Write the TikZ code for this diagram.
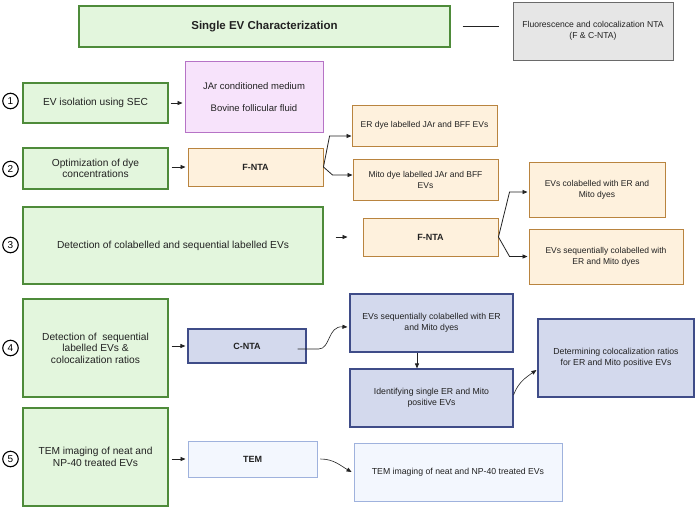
\documentclass[tikz,border=0pt]{standalone}
\usepackage{fontspec}
\setmainfont{Liberation Sans}
\usetikzlibrary{arrows.meta,calc}
\definecolor{gfill}{HTML}{E3F6DD}
\definecolor{gdraw}{HTML}{4E8B3A}
\definecolor{pfill}{HTML}{F7E3FB}
\definecolor{pdraw}{HTML}{B673C6}
\definecolor{ofill}{HTML}{FEF1DD}
\definecolor{odraw}{HTML}{B9843F}
\definecolor{bfill}{HTML}{D3D9ED}
\definecolor{bdraw}{HTML}{3F4C88}
\definecolor{lfill}{HTML}{F3F7FE}
\definecolor{ldraw}{HTML}{9FB2DD}
\definecolor{grfill}{HTML}{E6E6E6}
\definecolor{grdraw}{HTML}{6A6A6A}
\definecolor{txt}{HTML}{222222}
\tikzset{
  box/.style={rectangle, inner sep=1pt, align=center, text=txt, line width=1.1pt, font=\fontsize{10.2}{11.5}\selectfont},
  gbox/.style={box, fill=gfill, draw=gdraw},
  pbox/.style={box, fill=pfill, draw=pdraw, line width=0.9pt},
  obox/.style={box, fill=ofill, draw=odraw, line width=0.9pt, font=\fontsize{8.5}{11}\selectfont},
  bbox/.style={box, fill=bfill, draw=bdraw, line width=1.1pt, font=\fontsize{8.7}{11.2}\selectfont},
  lbox/.style={box, fill=lfill, draw=ldraw, line width=0.9pt, font=\fontsize{8.7}{11}\selectfont},
  grbox/.style={box, fill=grfill, draw=grdraw, line width=1pt, font=\fontsize{8.6}{10.5}\selectfont},
  hd/.style={font=\fontsize{9}{11}\selectfont\bfseries},
  num/.style={circle, draw=black, line width=1.1pt, minimum size=15.5pt, inner sep=0pt, font=\fontsize{10}{11}\selectfont},
  arr/.style={draw=txt, line width=0.8pt, -{Triangle[length=5pt,width=4pt]}},
}
\begin{document}
\begin{tikzpicture}[x=1pt,y=-1pt]
\useasboundingbox[fill=white] (0,0) rectangle (696,507);

% title and legend
\node[gbox, minimum width=371pt, minimum height=41pt, font=\fontsize{11.5}{13}\selectfont\bfseries] (title) at (264.5,26.5) {Single EV Characterization};
\node[grbox, minimum width=160pt, minimum height=58pt] (gray) at (593,31) {Fluorescence and colocalization NTA\\(F \& C-NTA)};
\draw[line width=1pt, draw=txt] ([xshift=12pt]title.east) -- ([xshift=-14pt]title.east -| gray.west);

% step numbers
\node[num] (n1) at (10.5,101) {1};
\node[num] (n2) at (10.5,169) {2};
\node[num] (n3) at (10.5,245) {3};
\node[num] (n4) at (10.5,348) {4};
\node[num] (n5) at (10.5,459) {5};

% row 1
\node[gbox, minimum width=145pt, minimum height=40pt] (b1) at (95.5,103) {EV isolation using SEC};
\node[pbox, minimum width=138pt, minimum height=71pt, font=\fontsize{9.5}{22}\selectfont] (pink) at (254,97) {JAr conditioned medium\\Bovine follicular fluid};
\draw[arr] ([xshift=2pt]b1.east) -- ([xshift=-2pt]b1.east -| pink.west);

% row 2
\node[gbox, minimum width=145pt, minimum height=41pt] (b2) at (95.5,168.5) {Optimization of dye\\concentrations};
\node[obox, hd, minimum width=135pt, minimum height=38pt] (f1) at (255.5,167) {F-NTA};
\node[obox, minimum width=145pt, minimum height=41pt] (er) at (424.5,125.5) {ER dye labelled JAr and BFF EVs};
\node[obox, minimum width=145pt, minimum height=41pt] (mito) at (425.5,179.5) {Mito dye labelled JAr and BFF\\EVs};
\draw[arr] ([xshift=3pt]b2.east |- f1.west) -- ([xshift=-2pt]f1.west);
\draw[arr] (f1.east) -- ([xshift=-22pt,yshift=-10.5pt]er.west) -- ([yshift=-10.5pt]er.west);
\draw[arr] (f1.east) -- ([xshift=-20pt,yshift=4.5pt]mito.west) -- ([yshift=4.5pt]mito.west);

% row 3
\node[gbox, minimum width=300pt, minimum height=77pt] (b3) at (173,245.5) {Detection of colabelled and sequential labelled EVs};
\node[obox, hd, minimum width=135pt, minimum height=38pt] (f2) at (430.5,237) {F-NTA};
\node[obox, minimum width=136pt, minimum height=55pt] (colab) at (597,189.5) {EVs colabelled with ER and\\Mito dyes};
\node[obox, minimum width=154pt, minimum height=55pt] (seq) at (606,256.5) {EVs sequentially colabelled with\\ER and Mito dyes};
\draw[arr] ([xshift=12pt]b3.east |- f2.west) -- ([xshift=-15pt]f2.west);
\draw[arr] (f2.east) -- ([xshift=-19pt,yshift=-2.5pt]colab.west) -- ([xshift=-1pt,yshift=-2.5pt]colab.west);
\draw[arr] (f2.east) -- ([xshift=-19pt]seq.west) -- ([xshift=-1pt]seq.west);

% row 4
\node[gbox, minimum width=145pt, minimum height=98pt] (b4) at (95.5,348) {Detection of~ sequential\\labelled EVs \&\\colocalization ratios};
\node[bbox, hd, minimum width=118pt, minimum height=34pt] (cnta) at (247,346) {C-NTA};
\node[bbox, minimum width=163pt, minimum height=58pt] (bl1) at (431.5,323) {EVs sequentially colabelled with ER\\and Mito dyes};
\node[bbox, minimum width=163pt, minimum height=58pt] (bl2) at (431.5,398) {Identifying single ER and Mito\\positive EVs};
\node[bbox, minimum width=156pt, minimum height=78pt] (bl3) at (616,358) {Determining colocalization ratios\\for ER and Mito positive EVs};
\draw[arr] ([xshift=3pt]b4.east |- cnta.west) -- ([xshift=-2pt]cnta.west);
\draw[arr, line width=0.6pt] ([xshift=-9pt,yshift=-3pt]cnta.east) -- ([xshift=12pt,yshift=-3pt]cnta.east)
  .. controls ([xshift=24pt,yshift=-3pt]cnta.east) and ([xshift=-22pt,yshift=-3pt]bl1.west) .. ([xshift=-2pt,yshift=-4pt]bl1.west);
\draw[arr] ([xshift=-14.5pt]bl1.south) -- ([xshift=-14.5pt]bl2.north);
\draw[arr, line width=0.6pt] ([yshift=3pt]bl2.east) to[out=70,in=215] ([xshift=-1pt,yshift=-12pt]bl3.west);

% row 5
\node[gbox, minimum width=145pt, minimum height=98pt] (b5) at (95.5,457) {TEM imaging of neat and\\NP-40 treated EVs};
\node[lbox, hd, minimum width=129pt, minimum height=36pt] (tem) at (252.5,459) {TEM};
\node[lbox, minimum width=208pt, minimum height=58pt] (temres) at (458,472) {TEM imaging of neat and NP-40 treated EVs};
\draw[arr] ([xshift=3pt]b5.east |- tem.west) -- ([xshift=-2pt]tem.west);
\draw[arr, line width=0.6pt] ([xshift=3pt]tem.east) to[out=0,in=150] ([xshift=-2pt]temres.west);
\end{tikzpicture}
\end{document}
